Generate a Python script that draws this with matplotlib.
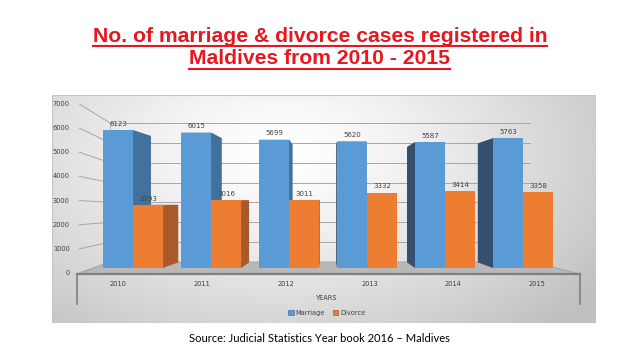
import numpy as np
import matplotlib
matplotlib.use('Agg')
import matplotlib.pyplot as plt
from matplotlib.patches import Polygon, Rectangle
from matplotlib.lines import Line2D

# data
years = ['2010', '2011', '2012', '2013', '2014', '2015']
marriage = [6123, 6015, 5699, 5620, 5587, 5763]
divorce = [2793, 3016, 3011, 3332, 3414, 3358]
yticks = [0, 1000, 2000, 3000, 4000, 5000, 6000, 7000]

W, H = 638, 359
fig = plt.figure(figsize=(W / 100, H / 100), dpi=100)
fig.patch.set_facecolor('white')

def fx(px):
    return px / W

def fy(py):
    return 1 - py / H

# grey gradient panel behind the chart
bg = fig.add_axes([fx(52), fy(323), fx(596) - fx(52), fy(95) - fy(323)], zorder=0)
gx, gy = np.meshgrid(np.linspace(0, 1, 300), np.linspace(0, 1, 150))
d = np.sqrt(((gx - 0.42) / 0.72) ** 2 + ((gy - 0.25) / 1.05) ** 2)
shade = 1 - 0.25 * np.clip(d, 0, 1) ** 1.3
bg.imshow(shade, cmap='gray', vmin=0, vmax=1, aspect='auto', extent=(0, 1, 0, 1))
bg.set_xlim(0, 1)
bg.set_ylim(0, 1)
bg.axis('off')
bg.add_patch(Rectangle((0, 0), 1, 1, fill=False, ec='#c4c4c4', lw=0.8))

# main axes: front plane of the bars
ax = fig.add_axes([fx(75), fy(268), fx(582) - fx(75), fy(110.5) - fy(268)], zorder=2)
ax.set_xlim(-0.744, 5.756)
ax.set_ylim(0, 7000)
ax.axis('off')
ax.patch.set_alpha(0)

def dx(x):
    return -0.092 * (x - 2.5)

def dy(v):
    return -0.083 * (v - 3000)

def back_y(v):
    return 267 + v * 0.8826

def label_y(v):
    return 1.073 * v - 222

x_left, x_right = -0.718, 5.73
wall_l, wall_r = -0.295, 5.09

# floor
floor = Polygon([(x_left, -260), (x_right, -260), (wall_r, back_y(0)), (wall_l, back_y(0))],
                closed=True, fc='#b8b8b8', ec='#a0a0a0', lw=0.6, zorder=1, clip_on=False)
ax.add_patch(floor)
ax.add_line(Line2D([x_left, x_right], [-260, -260], color='#7f7f7f', lw=1.6, clip_on=False, zorder=1))
for xe in [x_left, x_right]:
    ax.add_line(Line2D([xe, xe], [-260, -1600], color='#7f7f7f', lw=1.2, clip_on=False, zorder=1))

# gridlines on the back wall, slanted lines towards the tick labels
for v in yticks:
    if v > 0:
        ax.add_line(Line2D([wall_l, wall_r], [back_y(v), back_y(v)], color='#a6a6a6', lw=0.7,
                           clip_on=False, zorder=1))
    ax.add_line(Line2D([x_left + 0.03, wall_l], [label_y(v), back_y(v)], color='#a6a6a6', lw=0.7,
                       clip_on=False, zorder=1))
    ax.text(-0.81, label_y(v), str(v), ha='right', va='center', fontsize=4.8,
            color='#404040', clip_on=False)
ax.add_line(Line2D([wall_l, wall_l], [back_y(0), back_y(7000)], color='#b0b0b0', lw=0.6,
                   clip_on=False, zorder=1))

w = 0.385
series = [(marriage, -w, '#5b9bd5', '#41719c', '#34506e'),
          (divorce, 0.0, '#ed7d31', '#a9592a', '#a9592a')]

for vals, off, front, side_r, side_l in series:
    for i, v in enumerate(vals):
        x0 = i + off
        x1 = x0 + w
        if dx(x1) > 0:
            xs, col = x1, side_r
        else:
            xs, col = x0, side_l
        ddx = dx(xs)
        side = Polygon([(xs, 0), (xs + ddx, dy(0)), (xs + ddx, v + dy(v)), (xs, v)],
                       closed=True, fc=col, ec='none', zorder=2)
        ax.add_patch(side)
        top = Polygon([(x0, v), (x1, v), (x1 + dx(x1), v + dy(v)), (x0 + dx(x0), v + dy(v))],
                      closed=True, fc=col, ec='none', zorder=2)
        ax.add_patch(top)
        ax.add_patch(Rectangle((x0, 0), w, v, fc=front, ec='none', zorder=3))
        ax.text(x0 + w / 2, v + 160, str(v), ha='center', va='bottom', fontsize=5,
                color='#404040', zorder=4)

# category labels on the front edge of the floor
for i, yr in enumerate(years):
    ax.text(-0.19 + 1.074 * i, -711, yr, ha='center', va='center', fontsize=4.8,
            color='#404040', clip_on=False)

fig.text(fx(327), fy(298), 'YEARS', ha='center', va='center', fontsize=4.8, color='#404040')

handles = [Rectangle((0, 0), 1, 1, fc='#5b9bd5', ec='#41719c', lw=0.5),
           Rectangle((0, 0), 1, 1, fc='#ed7d31', ec='#a9592a', lw=0.5)]
fig.legend(handles, ['Marriage', 'Divorce'], loc='center', bbox_to_anchor=(fx(327), fy(313)),
           ncol=2, frameon=False, fontsize=4.8, handlelength=0.8, handleheight=0.8,
           handletextpad=0.3, columnspacing=1.2, labelcolor='#404040')

# title (red, bold, underlined)
titles = ['No. of marriage & divorce cases registered in', 'Maldives from 2010 - 2015']
title_texts = []
for line, py in zip(titles, [36, 59]):
    t = fig.text(fx(320), fy(py), line, ha='center', va='center', fontsize=15.2,
                 fontweight='bold', color='#e8161e', family='Liberation Sans')
    title_texts.append(t)

fig.text(fx(319), fy(338), 'Source: Judicial Statistics Year book 2016 \u2013 Maldives',
         ha='center', va='center', fontsize=8, color='black', family='Lato')

fig.canvas.draw()
r = fig.canvas.get_renderer()
for t in title_texts:
    bb = t.get_window_extent(r)
    yline = bb.y0 - 0.3
    fig.add_artist(Line2D([bb.x0 / W, bb.x1 / W], [yline / H, yline / H], color='#e8161e', lw=1.5,
                          transform=fig.transFigure))

fig.savefig('out.png', dpi=100)
